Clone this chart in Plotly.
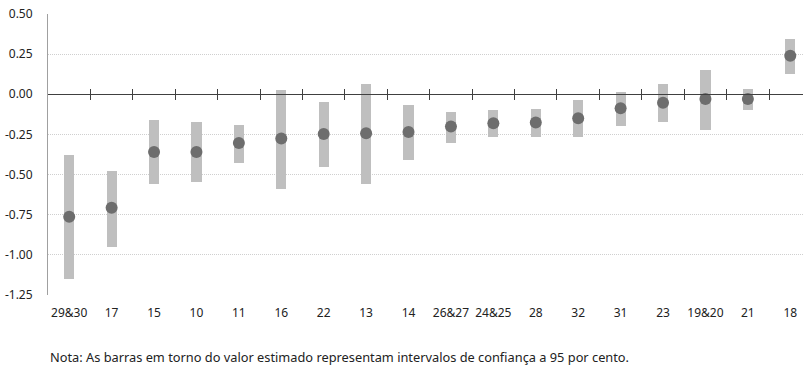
import plotly.graph_objects as go

categories = ["29&30", "17", "15", "10", "11", "16", "22", "13", "14", "26&27",
              "24&25", "28", "32", "31", "23", "19&20", "21", "18"]
estimate = [-0.763, -0.707, -0.360, -0.360, -0.303, -0.276, -0.247, -0.243, -0.235, -0.201,
            -0.181, -0.176, -0.149, -0.087, -0.052, -0.029, -0.029, 0.240]
ci_low = [-1.152, -0.951, -0.559, -0.545, -0.426, -0.588, -0.451, -0.557, -0.412, -0.301,
          -0.266, -0.266, -0.266, -0.199, -0.174, -0.222, -0.097, 0.127]
ci_high = [-0.378, -0.476, -0.160, -0.174, -0.193, 0.025, -0.049, 0.065, -0.064, -0.112,
           -0.097, -0.093, -0.035, 0.015, 0.061, 0.152, 0.034, 0.344]
y_ticks = [0.50, 0.25, 0.00, -0.25, -0.50, -0.75, -1.00, -1.25]
y_tick_labels = ["0.50", "0.25", "0.00", "-0.25", "-0.50", "-0.75", "-1.00", "-1.25"]
note = "Nota: As barras em torno do valor estimado representam intervalos de confiança a 95 por cento."

idx = list(range(len(categories)))
boundaries = [i + 0.5 for i in idx[:-1]]
FONT = "Noto Sans"
XR = [-0.5, 17.3]
YR = [-1.25, 0.5]

fig = go.Figure()
fig.add_trace(go.Bar(
    x=idx, y=[h - l for h, l in zip(ci_high, ci_low)], base=ci_low,
    width=0.24, marker=dict(color="#bfbfbf", line=dict(width=0)),
    hoverinfo="skip", showlegend=False))
fig.add_trace(go.Scatter(
    x=idx, y=estimate, mode="markers",
    marker=dict(color="#6d6d6d", size=12, line=dict(width=0)),
    showlegend=False, cliponaxis=False))
# invisible traces to hold the zero-line tick axes
fig.add_trace(go.Scatter(x=boundaries, y=[0] * len(boundaries), xaxis="x2", mode="markers",
                         marker=dict(opacity=0), showlegend=False, hoverinfo="skip"))
fig.add_trace(go.Scatter(x=boundaries, y=[0] * len(boundaries), xaxis="x3", mode="markers",
                         marker=dict(opacity=0), showlegend=False, hoverinfo="skip"))

pos0 = (0 - YR[0]) / (YR[1] - YR[0])

fig.update_layout(
    width=803, height=369,
    margin=dict(l=48, r=0, t=14, b=74),
    paper_bgcolor="white", plot_bgcolor="white",
    font=dict(family=FONT, size=12, color="#222222"),
    bargap=0,
    xaxis=dict(range=XR, tickvals=idx, ticktext=categories, showgrid=False,
               zeroline=False, showline=False, ticks="", ticklabelstandoff=9,
               automargin=False, ticklabeloverflow="allow",
               tickfont=dict(family=FONT, size=12, color="#222222")),
    xaxis2=dict(range=XR, overlaying="x", anchor="free", position=pos0,
                tickvals=boundaries, showticklabels=False, showgrid=False, zeroline=False,
                showline=True, linecolor="#404040", linewidth=1,
                ticks="outside", ticklen=5, tickcolor="#404040", tickwidth=1),
    xaxis3=dict(range=XR, overlaying="x", anchor="free", position=pos0,
                tickvals=boundaries, showticklabels=False, showgrid=False, zeroline=False,
                showline=False, ticks="inside", ticklen=5, tickcolor="#404040", tickwidth=1),
    yaxis=dict(range=YR, tickvals=y_ticks, ticktext=y_tick_labels,
               showgrid=True, gridcolor="#cfcfcf", griddash="1px,1px", gridwidth=1,
               zeroline=False, showline=True, linecolor="#a0a0a0", linewidth=1,
               ticks="", ticklabelstandoff=12, automargin=False, ticklabeloverflow="allow",
               tickfont=dict(family=FONT, size=12, color="#222222")),
    annotations=[dict(text=note, xref="paper", yref="paper", x=0, y=-0.222,
                      xanchor="left", yanchor="middle", showarrow=False,
                      font=dict(family=FONT, size=12.8, color="#222222"))],
)

fig.write_html("out.html", config={"displayModeBar": False},
               post_script="document.body.style.margin='0';document.body.style.overflow='hidden';")
